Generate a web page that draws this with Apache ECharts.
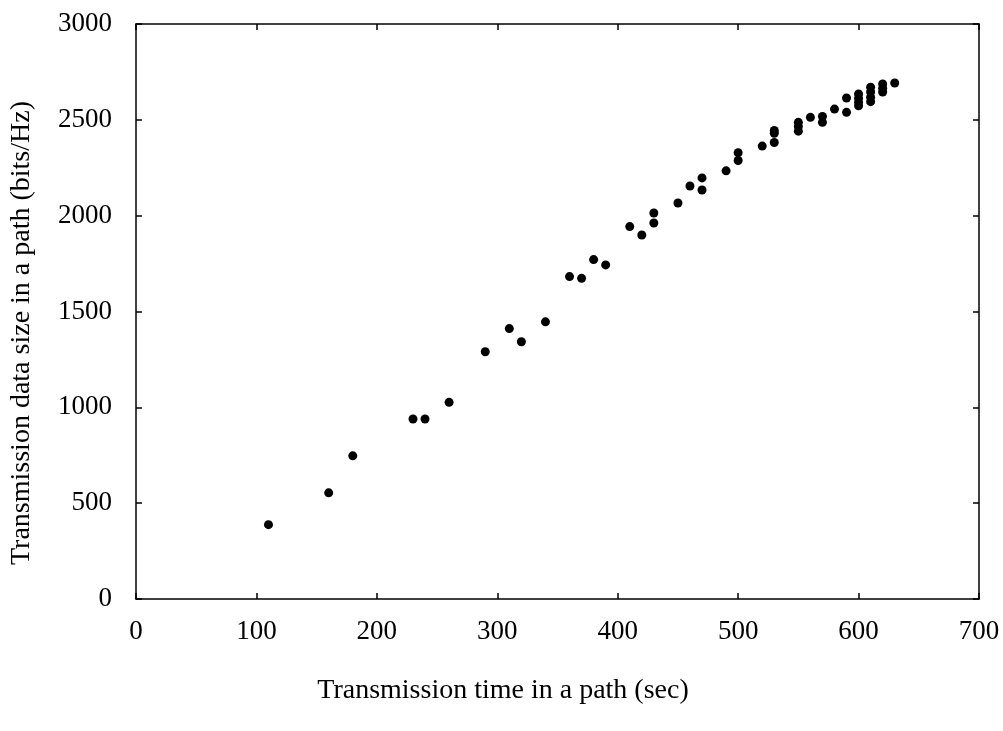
<!DOCTYPE html>
<html>
<head>
<meta charset="utf-8">
<script src="https://cdn.jsdelivr.net/npm/echarts@6/dist/echarts.min.js"></script>
<style>html,body{margin:0;padding:0;background:#fff}#c{width:1003px;height:731px}</style>
</head>
<body>
<div id="c"></div>
<script>
const xValues = [110,160,180,230,240,260,290,310,320,340,360,370,380,390,410,420,430,430,450,460,470,470,490,
  500,500,520,530,530,530,550,550,550,560,570,570,580,590,590,600,600,600,600,610,610,610,610,620,620,620,630];
const yValues = [388,554,747,939,939,1026,1290,1411,1342,1446,1682,1673,1771,1743,1943,1899,2014,1962,2066,2155,2197,2134,2234,
  2328,2288,2363,2445,2430,2382,2487,2465,2441,2513,2518,2487,2556,2614,2539,2635,2612,2592,2573,2670,2645,2618,2595,2687,2665,2645,2692];
const xTicks = [0,100,200,300,400,500,600,700];
const yTicks = [0,500,1000,1500,2000,2500,3000];
const xTitle = 'Transmission time in a path (sec)';
const yTitle = 'Transmission data size in a path (bits/Hz)';

const pts = xValues.map((x,i)=>[x,yValues[i]]);
const font = '"Liberation Serif","DejaVu Serif",serif';
const FS = 27;
const TFS = 28;
const chart = echarts.init(document.getElementById('c'), null, {renderer:'canvas'});
const axisCommon = {
  axisLine:{show:true,onZero:false,lineStyle:{color:'#000',width:1.5}},
  axisTick:{show:true,inside:true,length:6,lineStyle:{color:'#000',width:1.5}},
  splitLine:{show:false},
  axisLabel:{color:'#000',fontFamily:font,fontSize:FS,formatter:v=>String(v)}
};
chart.setOption({
  animation:false,
  grid:{left:136,right:24,top:24,bottom:132,show:false},
  xAxis:[
    Object.assign({type:'value',min:xTicks[0],max:xTicks[xTicks.length-1],interval:100,position:'bottom'},axisCommon,{axisLabel:Object.assign({},axisCommon.axisLabel,{margin:19})}),
    Object.assign({type:'value',min:xTicks[0],max:xTicks[xTicks.length-1],interval:100,position:'top'},axisCommon,{axisLabel:{show:false}})
  ],
  yAxis:[
    Object.assign({type:'value',min:yTicks[0],max:yTicks[yTicks.length-1],interval:500,position:'left'},axisCommon,{axisLabel:Object.assign({},axisCommon.axisLabel,{margin:24})}),
    Object.assign({type:'value',min:yTicks[0],max:yTicks[yTicks.length-1],interval:500,position:'right'},axisCommon,{axisLabel:{show:false}})
  ],
  graphic:[
    {type:'text',x:503,y:691,style:{text:xTitle,font:TFS+'px '+font,fill:'#000',textAlign:'center',textVerticalAlign:'middle'}},
    {type:'text',rotation:Math.PI/2,x:22,y:333,style:{text:yTitle,font:TFS+'px '+font,fill:'#000',textAlign:'center',textVerticalAlign:'middle'}}
  ],
  series:[{type:'scatter',data:pts,symbol:'circle',symbolSize:9,itemStyle:{color:'#000',opacity:1},xAxisIndex:0,yAxisIndex:0}]
});
</script>
</body>
</html>
